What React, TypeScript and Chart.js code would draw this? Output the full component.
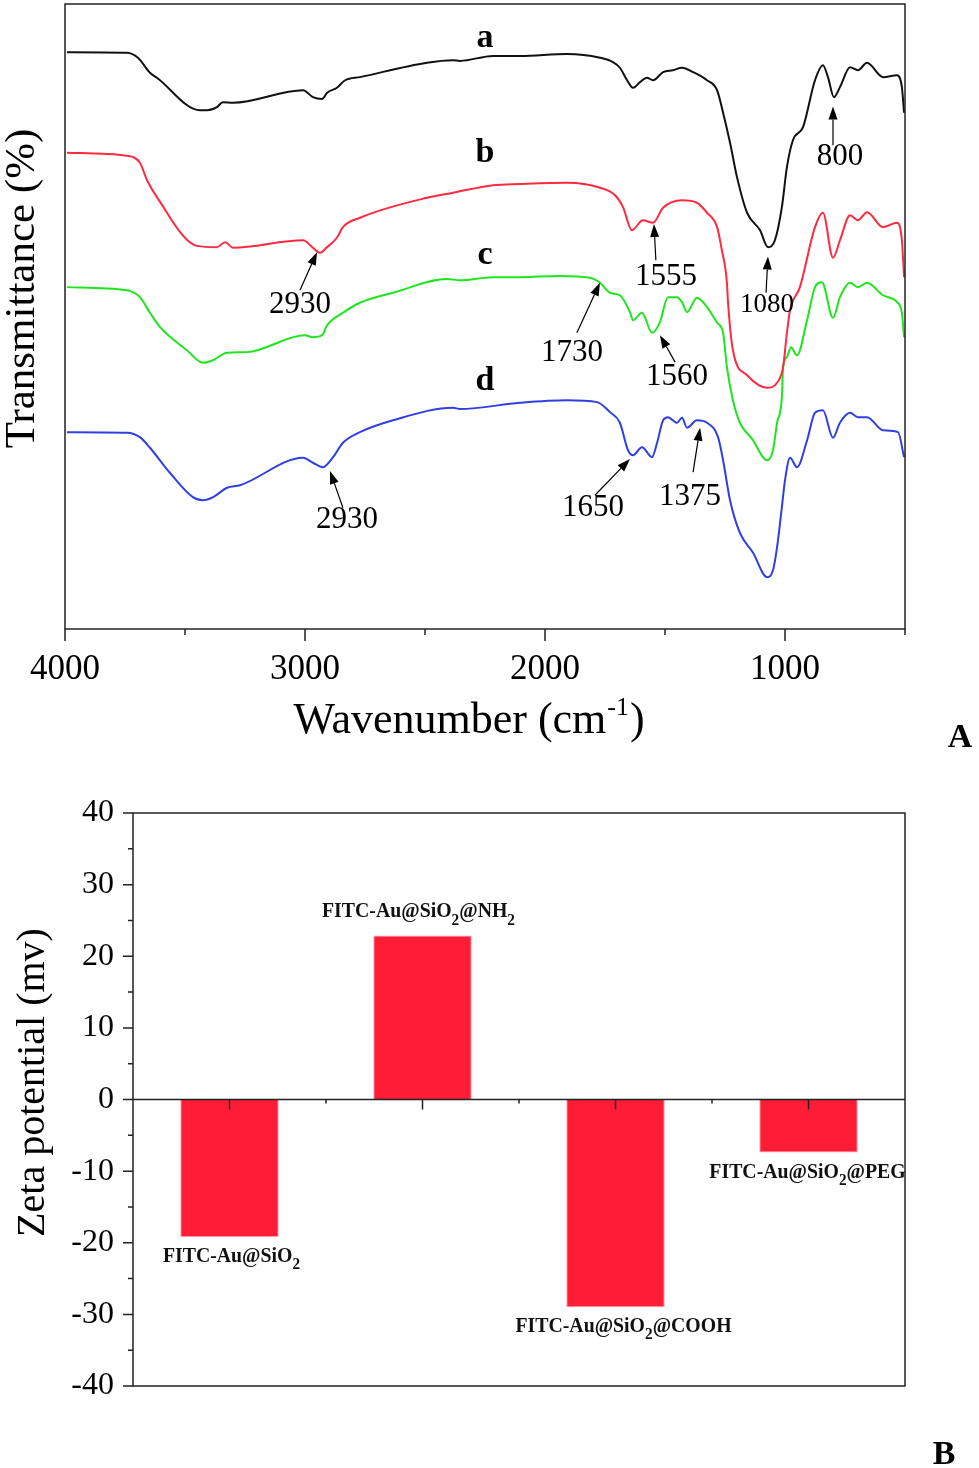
import React, { useEffect, useRef } from "react";
import { Chart, registerables } from "chart.js";

Chart.register(...registerables);

const SERIF = '"Liberation Serif", "Times New Roman", Times, serif';

// ---------------- Panel A: FTIR spectra ----------------
const waveA = [3992, 3742, 3696, 3646, 3617, 3438, 3408, 3367, 3342, 3300, 3008, 2967, 2929, 2908, 2867, 2833, 2771, 2492, 2383, 2354, 2217, 2104, 1908, 1771, 1717, 1688, 1658, 1633, 1604, 1575, 1550, 1508, 1467, 1429, 1383, 1325, 1283, 1258, 1229, 1200, 1158, 1104, 1071, 1042, 1013, 992, 967, 925, 875, 842, 821, 796, 771, 729, 696, 658, 592, 533, 513, 504];
const transA = [92.3, 92.2, 91.4, 89.0, 88.2, 83.0, 83.0, 83.5, 84.3, 84.2, 86.2, 85.1, 84.8, 85.8, 86.6, 87.8, 88.3, 90.6, 91.0, 90.9, 91.7, 91.7, 92.0, 91.4, 90.7, 89.8, 87.8, 86.6, 87.5, 88.2, 87.8, 89.1, 89.4, 89.8, 89.1, 87.8, 86.2, 82.6, 77.8, 72.3, 66.6, 63.8, 61.1, 62.2, 67.5, 73.9, 78.2, 80.3, 87.8, 90.2, 88.3, 85.1, 86.7, 89.9, 89.4, 90.6, 88.3, 88.6, 86.7, 82.6];

const waveB = [3992, 3742, 3688, 3658, 3617, 3450, 3367, 3333, 3300, 3008, 2967, 2938, 2908, 2867, 2842, 2771, 2492, 2383, 2217, 2104, 1908, 1771, 1708, 1675, 1638, 1592, 1550, 1508, 1429, 1367, 1325, 1283, 1263, 1242, 1238, 1217, 1158, 1075, 1033, 1008, 992, 979, 938, 875, 842, 800, 771, 729, 696, 658, 592, 533, 513, 504];
const transB = [76.2, 75.7, 74.6, 71.8, 69.1, 61.3, 61.1, 61.9, 61.0, 62.2, 61.0, 60.2, 61.1, 62.6, 64.3, 65.8, 69.0, 69.8, 71.0, 71.2, 71.4, 70.6, 69.4, 67.5, 63.8, 65.4, 65.0, 67.4, 68.6, 68.2, 66.6, 64.3, 60.6, 55.4, 52.6, 44.6, 40.6, 38.6, 39.4, 41.9, 47.4, 51.0, 54.7, 64.3, 66.6, 59.4, 62.2, 66.2, 65.4, 66.7, 64.3, 65.0, 62.2, 56.3];

const waveC = [3992, 3742, 3688, 3646, 3604, 3492, 3425, 3383, 3325, 3242, 3000, 2967, 2929, 2908, 2842, 2771, 2633, 2408, 2354, 2217, 2104, 1938, 1813, 1771, 1729, 1688, 1646, 1633, 1596, 1554, 1521, 1488, 1450, 1429, 1408, 1367, 1325, 1283, 1258, 1242, 1217, 1188, 1133, 1092, 1075, 1050, 1033, 1013, 1008, 992, 975, 950, 908, 875, 846, 800, 771, 729, 696, 658, 592, 533, 513, 504];
const transC = [54.7, 54.2, 53.1, 50.6, 48.3, 44.6, 42.6, 43.0, 44.2, 44.3, 47.0, 46.7, 47.0, 48.6, 50.6, 52.2, 53.8, 56.0, 55.8, 56.3, 56.3, 56.5, 56.2, 55.4, 53.8, 53.4, 50.7, 49.4, 50.6, 47.4, 49.1, 53.1, 53.1, 52.3, 50.7, 53.0, 51.5, 49.0, 47.4, 41.9, 36.6, 33.0, 30.2, 27.5, 27.0, 28.6, 33.0, 37.1, 41.9, 43.5, 45.1, 43.8, 49.4, 54.7, 55.5, 49.8, 53.1, 55.4, 54.7, 55.4, 53.4, 52.3, 50.6, 46.7];

const waveD = [3992, 3742, 3688, 3646, 3563, 3467, 3425, 3383, 3325, 3271, 3008, 2967, 2925, 2883, 2842, 2771, 2633, 2383, 2354, 2104, 1908, 1783, 1729, 1688, 1654, 1633, 1596, 1554, 1533, 1508, 1488, 1450, 1429, 1408, 1367, 1325, 1279, 1258, 1229, 1188, 1133, 1075, 1050, 1033, 1013, 1000, 979, 950, 908, 875, 842, 800, 771, 729, 696, 658, 592, 529, 504];
const transD = [31.5, 31.4, 30.7, 29.0, 25.0, 21.1, 20.6, 21.1, 22.6, 23.0, 27.4, 26.6, 25.9, 27.5, 29.8, 31.5, 33.4, 35.4, 35.2, 36.2, 36.6, 36.3, 34.7, 33.0, 28.6, 27.8, 29.1, 27.5, 29.8, 33.4, 33.9, 33.0, 33.8, 32.2, 33.4, 33.0, 30.7, 27.0, 20.6, 15.4, 12.2, 8.3, 9.4, 13.1, 19.5, 23.8, 27.4, 25.9, 30.2, 34.6, 35.0, 30.6, 33.0, 34.6, 33.9, 33.9, 31.8, 31.5, 27.5];

const curveLetters = ["a", "b", "c", "d"];
const letterWave = 2250;
const letterTrans = [94.6, 76.2, 59.8, 39.7];

// Peak annotations: label, arrow tip, arrow tail and text anchor (wavenumber, transmittance)
const peakLabels = ["800", "2930", "1555", "1080", "1730", "1560", "1650", "1375", "2930"];
const peakTipWave = [800, 2950, 1546, 1071, 1771, 1521, 1646, 1354, 2896];
const peakTipTrans = [83.6, 60.3, 64.8, 59.6, 55.4, 47.0, 27.2, 32.2, 25.3];
const peakTailWave = [800, 3021, 1538, 1079, 1867, 1458, 1792, 1383, 2842];
const peakTailTrans = [77.4, 54.2, 59.0, 53.8, 47.4, 42.7, 21.4, 25.1, 19.4];
const peakTextWave = [771, 3021, 1496, 1075, 1888, 1450, 1800, 1396, 2825];
const peakTextTrans = [75.5, 51.8, 56.3, 51.8, 44.2, 40.3, 19.4, 21.1, 17.4];

// ---------------- Panel B: zeta potential ----------------
const samples = ["FITC-Au@SiO2", "FITC-Au@SiO2@NH2", "FITC-Au@SiO2@COOH", "FITC-Au@SiO2@PEG"];
const zeta = [-19.2, 22.9, -29.0, -7.4];

const CURVE_COLORS = ["#111111", "#ff2a40", "#1ee61e", "#3040e0"];
const LABEL_SHIFT = [2, -4, 8, -1];

function drawArrow(ctx: CanvasRenderingContext2D, x1: number, y1: number, x2: number, y2: number) {
  const a = Math.atan2(y2 - y1, x2 - x1);
  const hl = 13;
  const hw = 4.5;
  const bx = x2 - hl * Math.cos(a);
  const by = y2 - hl * Math.sin(a);
  ctx.beginPath();
  ctx.moveTo(x1, y1);
  ctx.lineTo(bx, by);
  ctx.stroke();
  ctx.beginPath();
  ctx.moveTo(x2, y2);
  ctx.lineTo(bx + hw * Math.sin(a), by - hw * Math.cos(a));
  ctx.lineTo(bx - hw * Math.sin(a), by + hw * Math.cos(a));
  ctx.closePath();
  ctx.fill();
}

function drawChem(ctx: CanvasRenderingContext2D, text: string, cx: number, baseline: number, size: number, sx: number) {
  const segs = text.split(/(2)/).filter((s) => s.length > 0);
  const mainFont = `bold ${size}px ${SERIF}`;
  const subFont = `bold ${Math.round(size * 0.75)}px ${SERIF}`;
  const widths = segs.map((s) => {
    ctx.font = s === "2" ? subFont : mainFont;
    return ctx.measureText(s).width;
  });
  const total = widths.reduce((p, w) => p + w, 0) * sx;
  ctx.save();
  ctx.translate(cx - total / 2, baseline);
  ctx.scale(sx, 1);
  ctx.textAlign = "left";
  ctx.textBaseline = "alphabetic";
  let x = 0;
  segs.forEach((s, i) => {
    ctx.font = s === "2" ? subFont : mainFont;
    ctx.fillText(s, x, s === "2" ? size * 0.32 : 0);
    x += widths[i];
  });
  ctx.restore();
}

const panelAPlugin = {
  id: "panelAExtras",
  afterDraw(chart: any) {
    const { ctx, chartArea: ca, scales } = chart;
    const xs = scales.x;
    const ys = scales.y;
    ctx.save();
    ctx.strokeStyle = "#222";
    ctx.lineWidth = 1.5;
    ctx.strokeRect(ca.left, ca.top, ca.right - ca.left, ca.bottom - ca.top);
    ctx.beginPath();
    xs.ticks.forEach((t: any) => {
      const px = xs.getPixelForValue(t.value);
      const len = t.value % 1000 === 0 ? 12 : 6;
      ctx.moveTo(px, ca.bottom);
      ctx.lineTo(px, ca.bottom + len);
    });
    ctx.stroke();
    ctx.fillStyle = "#000";
    ctx.font = `bold 34px ${SERIF}`;
    ctx.textAlign = "center";
    ctx.textBaseline = "middle";
    curveLetters.forEach((l, i) => {
      ctx.fillText(l, xs.getPixelForValue(letterWave), ys.getPixelForValue(letterTrans[i]));
    });
    ctx.strokeStyle = "#000";
    ctx.lineWidth = 1.2;
    peakLabels.forEach((lab, i) => {
      drawArrow(
        ctx,
        xs.getPixelForValue(peakTailWave[i]),
        ys.getPixelForValue(peakTailTrans[i]),
        xs.getPixelForValue(peakTipWave[i]),
        ys.getPixelForValue(peakTipTrans[i])
      );
      ctx.font = `${lab === "1080" ? 27 : 31}px ${SERIF}`;
      ctx.fillText(lab, xs.getPixelForValue(peakTextWave[i]), ys.getPixelForValue(peakTextTrans[i]));
    });
    const base = "Wavenumber (cm";
    const sup = "-1";
    const close = ")";
    const big = `44px ${SERIF}`;
    const small = `26px ${SERIF}`;
    ctx.font = big;
    const w1 = ctx.measureText(base).width;
    const w3 = ctx.measureText(close).width;
    ctx.font = small;
    const w2 = ctx.measureText(sup).width;
    const cx = (ca.left + ca.right) / 2 - 17;
    const x0 = cx - (w1 + w2 + w3) / 2;
    const by = ca.bottom + 104;
    ctx.textAlign = "left";
    ctx.textBaseline = "alphabetic";
    ctx.font = big;
    ctx.fillText(base, x0, by);
    ctx.font = small;
    ctx.fillText(sup, x0 + w1 + 1, by - 18);
    ctx.font = big;
    ctx.fillText(close, x0 + w1 + w2 + 2, by);
    ctx.font = `bold 34px ${SERIF}`;
    ctx.textAlign = "center";
    ctx.fillText("A", ca.right + 55, ca.bottom + 118);
    ctx.save();
    ctx.translate(ca.left - 42, (ca.top + ca.bottom) / 2 - 28);
    ctx.rotate(-Math.PI / 2);
    ctx.font = `43px ${SERIF}`;
    ctx.textAlign = "center";
    ctx.textBaseline = "middle";
    ctx.fillText("Transmittance (%)", 0, 0);
    ctx.restore();
    ctx.restore();
  },
};

const panelBPlugin = {
  id: "panelBExtras",
  afterDraw(chart: any) {
    const { ctx, chartArea: ca, scales } = chart;
    const xs = scales.x;
    const ys = scales.y;
    ctx.save();
    ctx.strokeStyle = "#222";
    ctx.lineWidth = 1.5;
    ctx.strokeRect(ca.left, ca.top, ca.right - ca.left, ca.bottom - ca.top);
    const y0 = ys.getPixelForValue(0);
    ctx.beginPath();
    ctx.moveTo(ca.left, y0);
    ctx.lineTo(ca.right, y0);
    ys.ticks.forEach((t: any) => {
      const py = ys.getPixelForValue(t.value);
      ctx.moveTo(ca.left - 10, py);
      ctx.lineTo(ca.left, py);
      if (t.value < ys.max) {
        const pm = ys.getPixelForValue(t.value + 5);
        ctx.moveTo(ca.left - 5, pm);
        ctx.lineTo(ca.left, pm);
      }
    });
    samples.forEach((_, i) => {
      const px = xs.getPixelForValue(i);
      ctx.moveTo(px, y0);
      ctx.lineTo(px, y0 + 10);
      if (i < samples.length - 1) {
        const pm = (px + xs.getPixelForValue(i + 1)) / 2;
        ctx.moveTo(pm, y0);
        ctx.lineTo(pm, y0 + 4);
      }
    });
    ctx.stroke();
    ctx.fillStyle = "#111";
    const meta = chart.getDatasetMeta(0);
    meta.data.forEach((el: any, i: number) => {
      const v = zeta[i];
      const baseline = v < 0 ? el.y + 25 : el.y - 18;
      drawChem(ctx, samples[i], el.x + LABEL_SHIFT[i], baseline, 22, 0.9);
    });
    ctx.fillStyle = "#000";
    ctx.save();
    ctx.translate(ca.left - 100, (ca.top + ca.bottom) / 2 - 17);
    ctx.rotate(-Math.PI / 2);
    ctx.font = `40px ${SERIF}`;
    ctx.textAlign = "center";
    ctx.textBaseline = "middle";
    ctx.fillText("Zeta potential (mv)", 0, 0);
    ctx.restore();
    ctx.font = `bold 34px ${SERIF}`;
    ctx.textAlign = "center";
    ctx.textBaseline = "alphabetic";
    ctx.fillText("B", ca.right + 39, ca.bottom + 78);
    ctx.restore();
  },
};

export default function App() {
  const topRef = useRef<HTMLCanvasElement | null>(null);
  const botRef = useRef<HTMLCanvasElement | null>(null);

  useEffect(() => {
    const curves = [
      { w: waveA, t: transA },
      { w: waveB, t: transB },
      { w: waveC, t: transC },
      { w: waveD, t: transD },
    ];
    const top = new Chart(topRef.current as HTMLCanvasElement, {
      type: "line",
      data: {
        datasets: curves.map((c, i) => ({
          label: curveLetters[i],
          data: c.w.map((w, k) => ({ x: w, y: c.t[k] })),
          borderColor: CURVE_COLORS[i],
          borderWidth: 2,
          pointRadius: 0,
          cubicInterpolationMode: "monotone" as const,
          fill: false,
        })),
      },
      options: {
        responsive: false,
        animation: false,
        devicePixelRatio: 1,
        layout: { padding: { left: 65, right: 74, top: 4, bottom: 0 } },
        plugins: { legend: { display: false }, tooltip: { enabled: false } },
        scales: {
          x: {
            type: "linear",
            reverse: true,
            min: 500,
            max: 4000,
            ticks: {
              stepSize: 500,
              autoSkip: false,
              maxRotation: 0,
              callback: (v: any) => (Number(v) % 1000 === 0 ? String(v) : ""),
              font: { family: SERIF, size: 35 },
              color: "#000",
              padding: 20,
            },
            grid: { display: false, drawTicks: false },
            border: { display: false },
            afterFit: (s: any) => {
              s.height = 141;
            },
          },
          y: { display: false, min: 0, max: 100 },
        },
      },
      plugins: [panelAPlugin],
    } as any);

    const bot = new Chart(botRef.current as HTMLCanvasElement, {
      type: "bar",
      data: {
        labels: samples,
        datasets: [
          {
            data: zeta,
            backgroundColor: "#ff1d35",
            borderColor: "#ff9aa8",
            borderWidth: 1,
            barPercentage: 0.51,
            categoryPercentage: 1,
          },
        ],
      },
      options: {
        responsive: false,
        animation: false,
        devicePixelRatio: 1,
        layout: { padding: { left: 0, right: 74, top: 43, bottom: 82 } },
        plugins: { legend: { display: false }, tooltip: { enabled: false } },
        scales: {
          x: { display: false },
          y: {
            min: -40,
            max: 40,
            ticks: {
              stepSize: 10,
              font: { family: SERIF, size: 32 },
              color: "#000",
              padding: 19,
            },
            grid: { display: false, drawTicks: false },
            border: { display: false },
            afterFit: (s: any) => {
              s.width = 133;
            },
          },
        },
      },
      plugins: [panelBPlugin],
    } as any);

    return () => {
      top.destroy();
      bot.destroy();
    };
  }, []);

  return (
    <div style={{ position: "absolute", left: 0, top: 0, width: 979, height: 1468, background: "#fff" }}>
      <canvas ref={topRef} width={979} height={770} style={{ position: "absolute", left: 0, top: 0, display: "block" }} />
      <canvas ref={botRef} width={979} height={698} style={{ position: "absolute", left: 0, top: 770, display: "block" }} />
    </div>
  );
}
